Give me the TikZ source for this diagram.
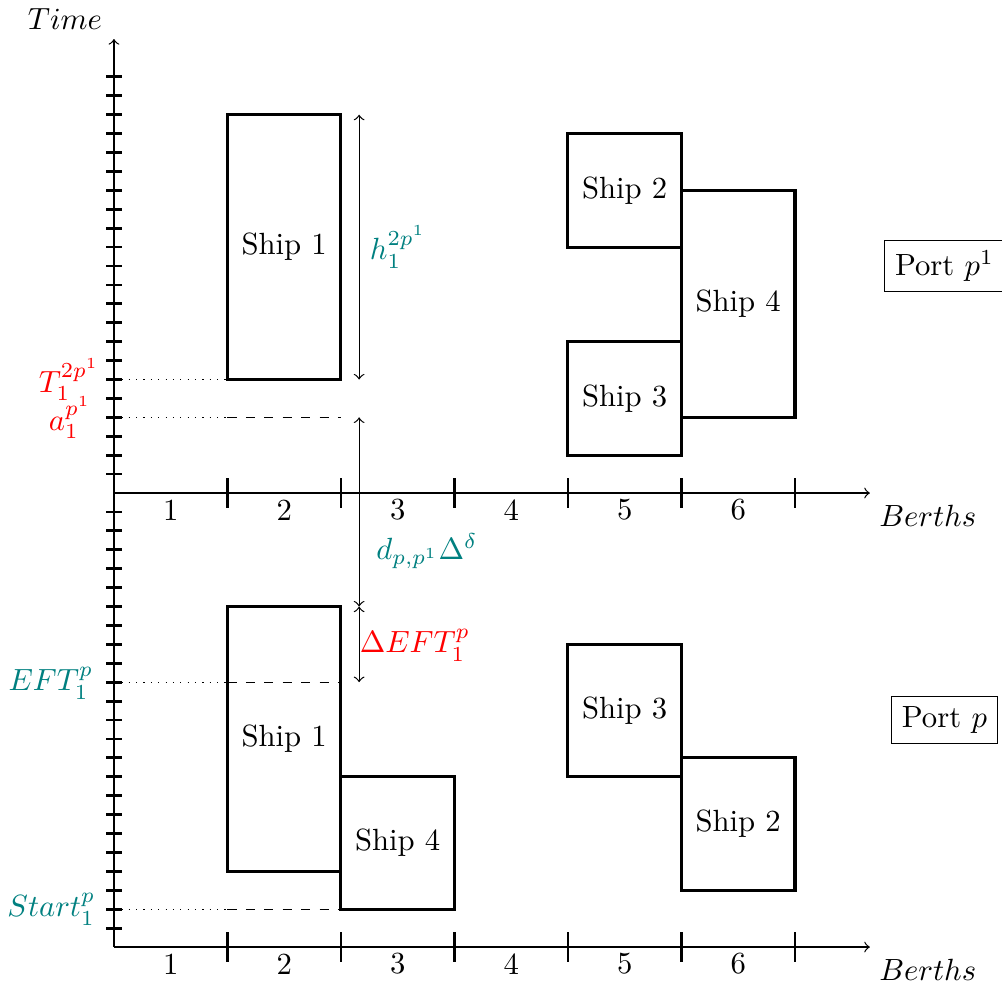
\documentclass[tikz,border=0pt]{standalone}
\usetikzlibrary{fit}
\begin{document}
\begin{tikzpicture}[x=1.3cm,y=1.3cm,
  ship/.style={draw, line width=1pt, inner sep=0pt},
  shiptext/.style={inner sep=0pt},
  tickline/.style={line width=0.9pt},
  axisline/.style={->},
  dimline/.style={<->},
  guide/.style={dotted},
  guidedash/.style={dashed},
  lbl/.style={inner sep=0pt},
  portbox/.style={draw}]
\useasboundingbox (-1.004,-0.361) rectangle (7.824,8.344);

% axes
\coordinate (O) at (0,0);
\coordinate (Ou) at (0,4);
\coordinate (Ytop) at (0,8);
\coordinate (Xend) at (6.66,0);
\coordinate (Xendu) at (6.66,4);
\draw[axisline] (O) -- (Ytop);
\draw[axisline] (O) -- (Xend);
\draw[axisline] (Ou) -- (Xendu);

% time ticks
\foreach \t in {1,...,23} \draw[tickline] (-0.07,\t/6) -- (0.07,\t/6);
\foreach \t in {25,...,46} \draw[tickline] (-0.07,\t/6) -- (0.07,\t/6);

% berth ticks and numbers
\foreach \b in {1,...,6} {
  \draw[tickline] (\b,-0.13) -- (\b,0.13);
  \draw[tickline] (\b,3.87) -- (\b,4.13);
  \node (bl\b) at (\b-0.5,-0.15) {\b};
  \node (bu\b) at (\b-0.5,3.85) {\b};
}

% axis labels
\node (time) at (-0.432,8.176) {$Time$};
\node (berthsu) at (7.17,3.80) {$Berths$};
\node (berthsl) at (7.17,-0.20) {$Berths$};

% ships, port p^1
\node[ship, fit={(1,5) (2,22/3)}] (s1u) {};
\node[ship, fit={(4,37/6) (5,43/6)}] (s2u) {};
\node[ship, fit={(4,26/6) (5,32/6)}] (s3u) {};
\node[ship, fit={(5,28/6) (6,40/6)}] (s4u) {};
\node[shiptext] (t1u) at (s1u.center) {Ship 1};
\node[shiptext] (t2u) at (s2u.center) {Ship 2};
\node[shiptext] (t3u) at (s3u.center) {Ship 3};
\node[shiptext] (t4u) at (s4u.center) {Ship 4};

% ships, port p
\node[ship, fit={(1,4/6) (2,3)}] (s1l) {};
\node[ship, fit={(2,2/6) (3,1.5)}] (s4l) {};
\node[ship, fit={(4,1.5) (5,16/6)}] (s3l) {};
\node[ship, fit={(5,0.5) (6,10/6)}] (s2l) {};
\node[shiptext] (t1l) at (s1l.center) {Ship 1};
\node[shiptext] (t4l) at (s4l.center) {Ship 4};
\node[shiptext] (t3l) at (s3l.center) {Ship 3};
\node[shiptext] (t2l) at (s2l.center) {Ship 2};

% guide lines
\coordinate (T0) at (0,5);   \coordinate (T1) at (1,5);
\coordinate (a0) at (0,28/6); \coordinate (a1) at (1,28/6); \coordinate (a2) at (2,28/6);
\coordinate (E0) at (0,14/6); \coordinate (E1) at (1,14/6); \coordinate (E2) at (2,14/6);
\coordinate (S0) at (0,2/6);  \coordinate (S1) at (1,2/6);  \coordinate (S2) at (2,2/6);
\draw[guide] (T0) -- (T1);
\draw[guide] (a0) -- (a1); \draw[guidedash] (a1) -- (a2);
\draw[guide] (E0) -- (E1); \draw[guidedash] (E1) -- (E2);
\draw[guide] (S0) -- (S1); \draw[guidedash] (S1) -- (S2);

% dimension arrows
\coordinate (h0) at (2.16,22/3);
\coordinate (h1) at (2.16,5);
\coordinate (d0) at (2.16,28/6);
\coordinate (d1) at (2.16,3);
\coordinate (e1) at (2.16,14/6);
\draw[dimline] (h0) -- node[right, teal] (hlab) {$h_1^{2p^1}$} (h1);
\draw[dimline] (d0) -- (d1);
\draw[dimline] (d1) -- (e1);
\node[teal] (dlab) at (2.758,3.489) {$d_{p,p^1}\Delta^{\delta}$};
\node[red] (elab) at (2.652,2.661) {$\Delta EFT_1^p$};

% left labels
\node[lbl, red, anchor=east] (Tlab) at (-0.123,5.0) {$T_1^{2p^1}$};
\node[lbl, red, anchor=east] (alab) at (-0.194,4.665) {$a_1^{p^1}$};
\node[lbl, teal, anchor=east] (EFTlab) at (-0.176,2.326) {$EFT_1^p$};
\node[lbl, teal, anchor=east] (Slab) at (-0.159,0.335) {$Start_1^p$};

% ports
\node[portbox] (pu) at (7.317,6) {Port $p^1$};
\node[portbox] (pl) at (7.317,2) {Port $p$};
\end{tikzpicture}
\end{document}
